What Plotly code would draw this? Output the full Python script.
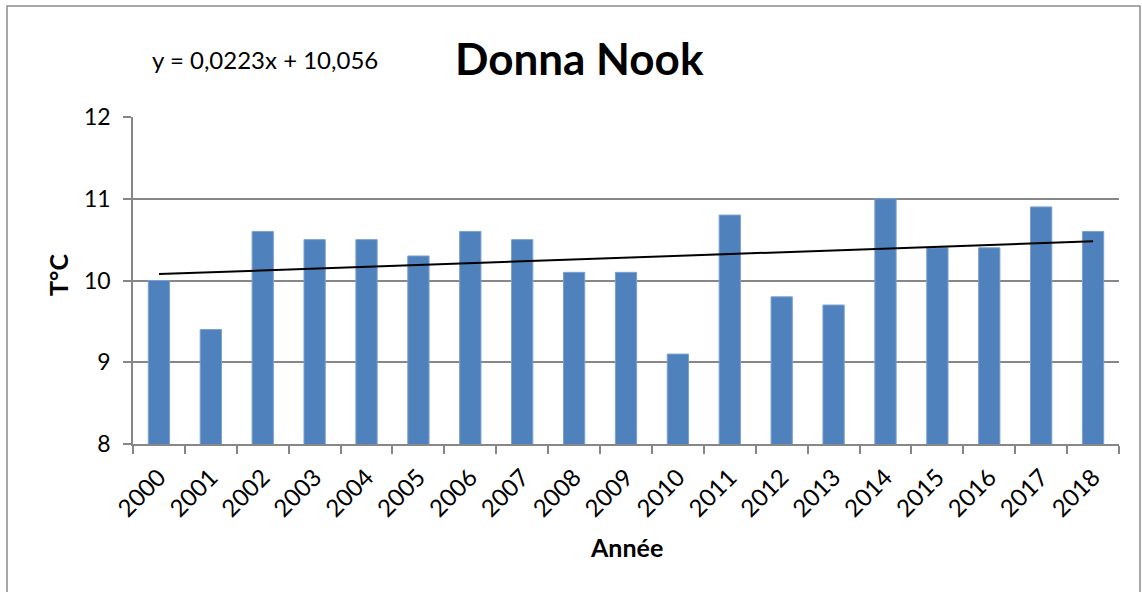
import plotly.graph_objects as go

years = [str(y) for y in range(2000, 2019)]
temps = [10.0, 9.4, 10.6, 10.5, 10.5, 10.3, 10.6, 10.5, 10.1, 10.1,
         9.1, 10.8, 9.8, 9.7, 11.0, 10.4, 10.4, 10.9, 10.6]
slope = 0.0223
intercept = 10.056
trend = [slope * (i + 1) + intercept for i in range(len(years))]

FONT = "Lato"
GRID = "#878787"

fig = go.Figure()
fig.add_trace(go.Bar(x=years, y=temps, marker=dict(color="#4F81BD", line=dict(color="#7aa0d0", width=1)),
                     width=0.41, showlegend=False))
fig.add_trace(go.Scatter(x=years, y=trend, mode="lines", line=dict(color="black", width=2),
                         showlegend=False))

L, R, T, B = 133, 23, 117, 148
W, H = 1142, 592
pw, ph = W - L - R, H - T - B

def px(x):
    return (x - L) / pw

def py(y):
    return (H - B - y) / ph

fig.update_layout(
    width=W, height=H,
    margin=dict(l=L, r=R, t=T, b=B),
    paper_bgcolor="white", plot_bgcolor="white",
    font=dict(family=FONT, size=23, color="black"),
    xaxis=dict(type="category", tickson="boundaries", ticks="outside", ticklen=8,
               tickcolor=GRID, tickwidth=1.5, showline=True, linecolor=GRID, linewidth=1.5,
               tickangle=-45, tickfont=dict(size=24), showgrid=False, ticklabelstandoff=8),
    yaxis=dict(range=[8, 12], dtick=1, ticks="outside", ticklen=8, tickcolor=GRID, tickwidth=1.5,
               showline=True, linecolor=GRID, linewidth=1.5, gridcolor=GRID, gridwidth=1.5,
               tickfont=dict(size=23), zeroline=False, ticklabelstandoff=8),
    shapes=[dict(type="rect", xref="paper", yref="paper", x0=px(7), x1=px(1140), y0=py(620), y1=py(6),
                 line=dict(color="#8c8c8c", width=1.5), fillcolor="rgba(0,0,0,0)", layer="below")],
    annotations=[
        dict(text="<b>Donna Nook</b>", xref="paper", yref="paper", x=px(579), y=py(58),
             showarrow=False, font=dict(size=44, family=FONT), xanchor="center", yanchor="middle"),
        dict(text="y = 0,0223x + 10,056", xref="paper", yref="paper", x=px(265), y=py(60),
             showarrow=False, font=dict(size=24, family=FONT), xanchor="center", yanchor="middle"),
        dict(text="<b>T°C</b>", xref="paper", yref="paper", x=px(58), y=py(275), textangle=-90,
             showarrow=False, font=dict(size=25, family=FONT), xanchor="center", yanchor="middle"),
        dict(text="<b>Année</b>", xref="paper", yref="paper", x=px(626), y=py(547),
             showarrow=False, font=dict(size=25, family=FONT), xanchor="center", yanchor="middle"),
    ],
)

fig.write_html("out.html", post_script="document.body.style.margin='0';",
               config={"displayModeBar": False})
